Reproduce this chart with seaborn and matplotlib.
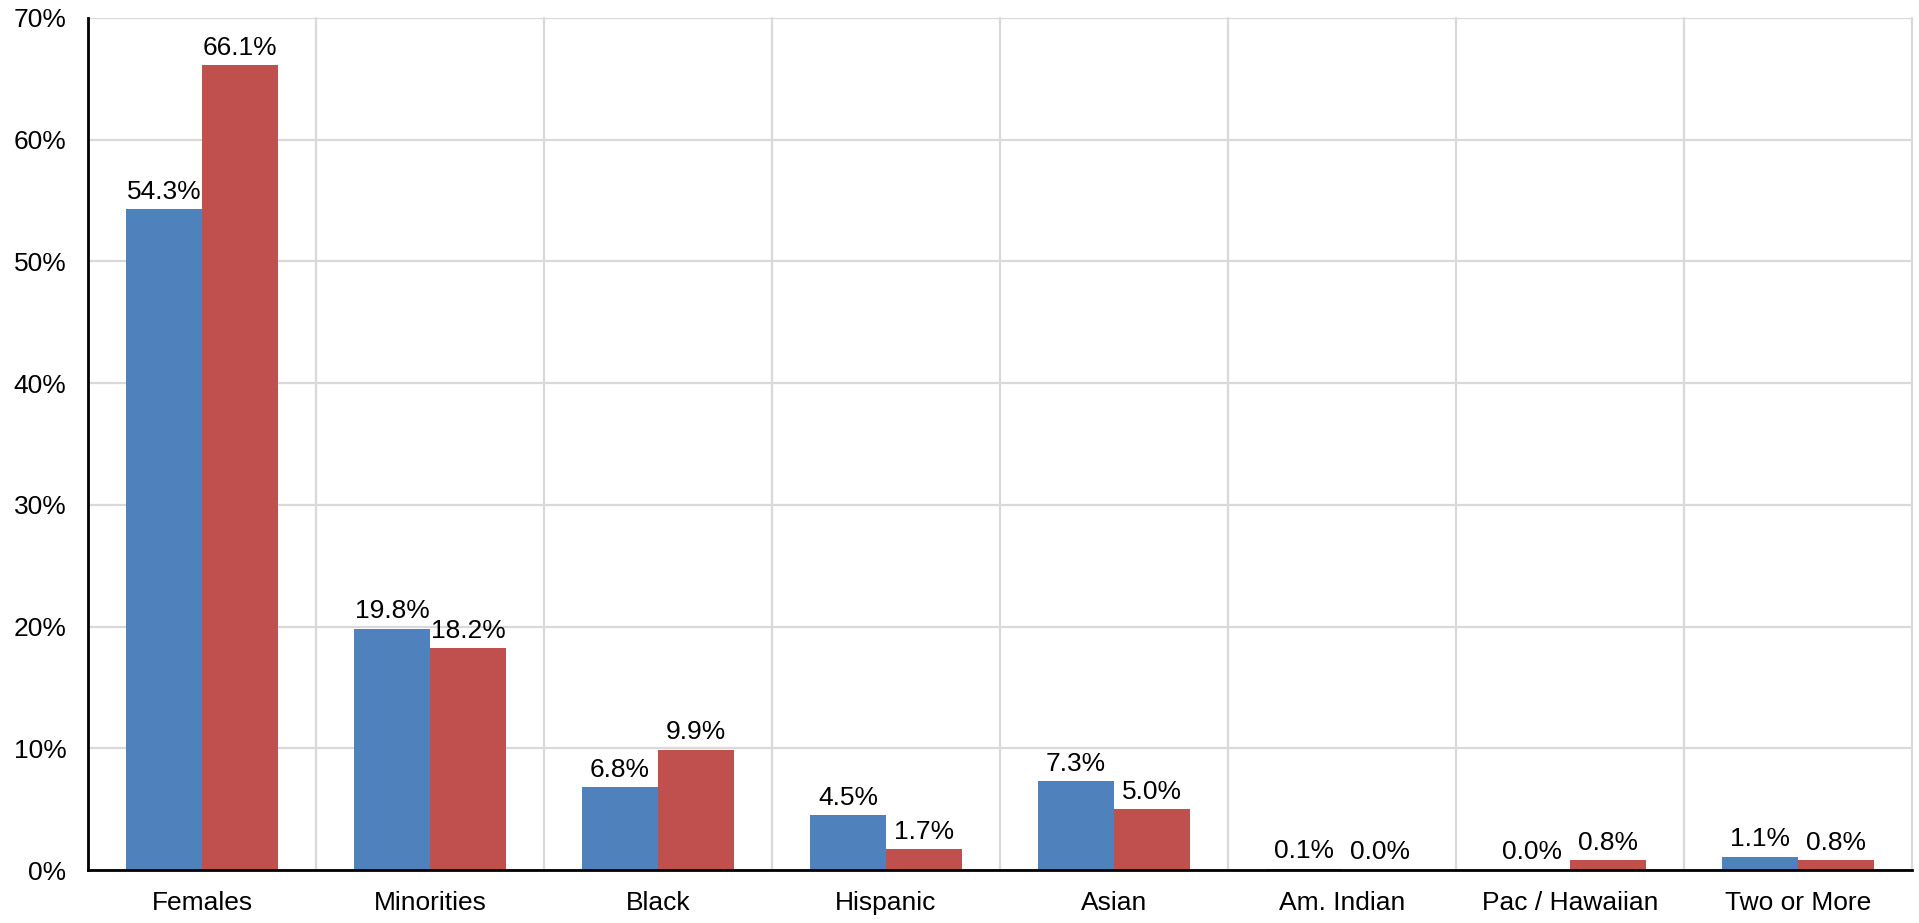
"""Grouped bar chart: representation by group, two series"""
import matplotlib
matplotlib.use("Agg")
import matplotlib.pyplot as plt
import numpy as np
import pandas as pd
import seaborn as sns

categories = ["Females", "Minorities", "Black", "Hispanic", "Asian",
              "Am. Indian", "Pac / Hawaiian", "Two or More"]
series_a = [54.3, 19.8, 6.8, 4.5, 7.3, 0.1, 0.0, 1.1]
series_b = [66.1, 18.2, 9.9, 1.7, 5.0, 0.0, 0.8, 0.8]
series_names = ["Series A", "Series B"]
palette = ["#4F81BD", "#C0504D"]
y_ticks = [0, 10, 20, 30, 40, 50, 60, 70]

df = pd.DataFrame({
    "category": categories * 2,
    "value": series_a + series_b,
    "series": [series_names[0]] * len(categories) + [series_names[1]] * len(categories),
})

sns.set_style("white")
plt.rcParams["font.family"] = ["Liberation Sans", "DejaVu Sans"]
FS = 19

fig = plt.figure(figsize=(19.19, 9.23), dpi=100)
ax = fig.add_axes([88 / 1919, 53 / 923, (1912 - 88) / 1919, (870 - 18) / 923])

sns.barplot(
    data=df, x="category", y="value", hue="series",
    order=categories, hue_order=series_names, palette=palette,
    width=0.667, gap=0, saturation=1, legend=False, ax=ax,
    linewidth=0,
)

for cont in ax.containers:
    ax.bar_label(cont, labels=[f"{v:.1f}%" for v in cont.datavalues],
                 padding=4, fontsize=FS, color="black")

n = len(categories)
ax.set_xlim(-0.5, n - 0.5)
ax.set_ylim(0, 70)
ax.set_yticks(y_ticks)
ax.set_yticklabels([f"{t}%" for t in y_ticks], fontsize=FS)

ax.set_xticks(range(n))
ax.set_xticklabels(categories, fontsize=FS)
ax.set_xticks(np.arange(-0.5, n, 1.0), minor=True)
ax.tick_params(axis="x", which="major", length=0, pad=15, labelcolor="black")
ax.tick_params(axis="x", which="minor", direction="inout", length=15, width=2, color="black")
ax.tick_params(axis="y", which="major", direction="inout", length=15, width=2,
               color="black", pad=8, labelcolor="black")

ax.grid(False)
ax.grid(True, axis="y", which="major", color="#D9D9D9", linewidth=1.6)
ax.grid(True, axis="x", which="minor", color="#D9D9D9", linewidth=1.6)
for tick in ax.xaxis.get_minor_ticks():
    tick.gridline.set_clip_on(False)
ax.set_axisbelow(True)

for s in ["top", "right"]:
    ax.spines[s].set_visible(False)
for s in ["left", "bottom"]:
    ax.spines[s].set_color("black")
    ax.spines[s].set_linewidth(2)

ax.set_xlabel("")
ax.set_ylabel("")

fig.savefig("out.png", dpi=100)
plt.close(fig)
